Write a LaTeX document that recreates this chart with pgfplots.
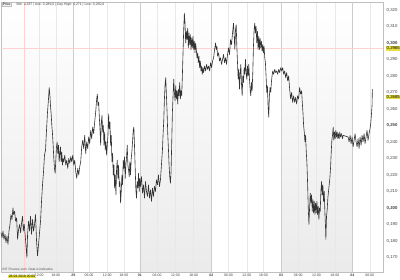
\documentclass[border=0pt]{standalone}
\usepackage{pgfplots}
\pgfplotsset{compat=1.18}
\usepackage{fontspec}
\setmainfont{Liberation Sans}
\definecolor{lineC}{HTML}{333333}
\definecolor{hiY}{HTML}{E8E040}
\begin{document}
\begin{tikzpicture}
\path[use as bounding box] (0pt,0pt) rectangle (400pt,280pt);
\shade[top color=white, bottom color=black!8] (1pt,8pt) rectangle (73.4pt,278pt);
\shade[top color=white, bottom color=black!8] (139.8pt,8pt) rectangle (211.3pt,278pt);
\shade[top color=white, bottom color=black!8] (281.1pt,8pt) rectangle (352.5pt,278pt);
\begin{axis}[
  at={(1pt,8pt)}, anchor=south west,
  scale only axis, width=382pt, height=270pt,
  xmin=0, xmax=1150, ymin=0.1612, ymax=0.3248,
  clip=false,
  axis line style={black!25},
  major tick length=0pt,
  yticklabel pos=right,
  ytick={0.17,0.18,0.19,0.20,0.21,0.22,0.23,0.24,0.25,0.26,0.27,0.28,0.29,0.30,0.31,0.32},
  yticklabels={{0,170},{0,180},{0,190},{\textbf{0,200}},{0,210},{0,220},{0,230},{0,240},{\textbf{0,250}},{0,260},{0,270},{0,280},{0,290},{\textbf{0,300}},{0,310},{0,320}},
  yticklabel style={font=\fontsize{4.3}{4.3}\selectfont, text=black!75, anchor=west, inner sep=0.5pt, xshift=3pt},
  xtick={115,165,218,265,320,370,418,470,525,580,633,685,740,790,843,895,950,1005,1058,1110},
  xticklabels={12:00,18:00,\textbf{29},06:00,12:00,18:00,\textbf{01},06:00,12:00,18:00,\textbf{02},06:00,12:00,18:00,\textbf{03},06:00,12:00,18:00,\textbf{04},06:00},
  xticklabel style={font=\fontsize{3.5}{3.5}\selectfont, text=black!75, anchor=north, inner sep=0.5pt, yshift=-1.3pt},
  xmajorgrids,
  grid style={black!9, line width=0.4pt},
]
\draw[black!20, line width=0.5pt] (axis cs:218,0.1612) -- (axis cs:218,0.3248);
\draw[black!20, line width=0.5pt] (axis cs:418,0.1612) -- (axis cs:418,0.3248);
\draw[black!20, line width=0.5pt] (axis cs:633,0.1612) -- (axis cs:633,0.3248);
\draw[black!20, line width=0.5pt] (axis cs:843,0.1612) -- (axis cs:843,0.3248);
\draw[black!20, line width=0.5pt] (axis cs:1058,0.1612) -- (axis cs:1058,0.3248);
\draw[red!18, line width=0.4pt] (axis cs:70,0.1612) -- (axis cs:70,0.3248);
\draw[red!18, line width=0.4pt] (axis cs:0,0.2965) -- (axis cs:1150,0.2965);
\addplot[lineC, line width=0.6pt, line join=round] coordinates {
(0,0.185) (3,0.182) (6,0.186) (9,0.181) (12,0.184) (15,0.179) (18,0.183) (21,0.178) (24,0.186) (27,0.190)
(30,0.196) (33,0.193) (36,0.200) (38,0.196) (41,0.198) (44,0.192) (47,0.194) (50,0.181) (53,0.187) (56,0.190)
(59,0.185) (62,0.191) (65,0.195) (67,0.186) (70,0.190) (73,0.183) (76,0.175) (78,0.170) (80,0.184) (83,0.192)
(86,0.186) (89,0.195) (92,0.184) (95,0.193) (98,0.186) (101,0.190) (104,0.196) (107,0.180) (110,0.171) (113,0.178)
(116,0.185) (119,0.192) (122,0.204) (125,0.214) (128,0.222) (131,0.232) (134,0.235) (137,0.247) (140,0.258) (143,0.266)
(145,0.273) (147,0.269) (149,0.262) (151,0.257) (153,0.250) (155,0.245) (157,0.238) (159,0.230) (161,0.224) (163,0.221)
(165,0.229) (167,0.237) (169,0.240) (171,0.233) (173,0.238) (175,0.228) (177,0.233) (179,0.237) (181,0.228) (183,0.234)
(185,0.226) (187,0.230) (189,0.228) (192,0.232) (195,0.226) (198,0.229) (201,0.224) (204,0.230) (207,0.227) (210,0.231)
(213,0.228) (216,0.232) (219,0.226) (222,0.229) (225,0.222) (228,0.218) (231,0.224) (234,0.220) (237,0.225) (240,0.228)
(243,0.237) (246,0.241) (249,0.236) (252,0.244) (255,0.233) (258,0.240) (261,0.236) (264,0.243) (267,0.239) (270,0.247)
(273,0.242) (276,0.249) (279,0.245) (282,0.252) (285,0.258) (288,0.266) (290,0.269) (292,0.262) (294,0.264) (296,0.255)
(298,0.248) (300,0.238) (302,0.252) (304,0.256) (306,0.246) (308,0.250) (310,0.238) (312,0.246) (314,0.235) (316,0.240)
(318,0.232) (320,0.238) (322,0.244) (324,0.257) (326,0.248) (328,0.252) (330,0.238) (332,0.244) (334,0.228) (336,0.233)
(338,0.220) (340,0.226) (342,0.212) (344,0.220) (346,0.208) (348,0.224) (350,0.229) (352,0.218) (354,0.226) (356,0.213)
(358,0.216) (360,0.203) (362,0.210) (364,0.220) (366,0.214) (368,0.229) (370,0.224) (372,0.231) (374,0.218) (376,0.226)
(378,0.231) (380,0.238) (382,0.226) (384,0.223) (386,0.219) (388,0.228) (390,0.220) (392,0.230) (394,0.234) (396,0.240)
(398,0.247) (400,0.249) (402,0.237) (404,0.224) (406,0.211) (408,0.206) (410,0.216) (412,0.212) (414,0.221) (416,0.210)
(418,0.218) (420,0.213) (423,0.219) (426,0.209) (429,0.214) (432,0.206) (435,0.216) (438,0.210) (441,0.207) (444,0.214)
(447,0.206) (450,0.211) (453,0.204) (456,0.212) (459,0.207) (462,0.213) (465,0.210) (468,0.217) (471,0.214) (474,0.220)
(477,0.213) (480,0.217) (483,0.226) (486,0.235) (488,0.245) (490,0.253) (492,0.266) (494,0.275) (496,0.279) (498,0.268)
(500,0.258) (502,0.245) (504,0.236) (506,0.226) (508,0.219) (510,0.215) (512,0.222) (514,0.240) (516,0.258) (518,0.268)
(520,0.278) (522,0.270) (524,0.265) (526,0.274) (528,0.266) (530,0.271) (532,0.263) (534,0.272) (536,0.268) (538,0.276)
(540,0.266) (542,0.271) (544,0.268) (546,0.280) (548,0.294) (550,0.308) (552,0.318) (554,0.312) (556,0.300) (558,0.307)
(560,0.302) (562,0.309) (564,0.297) (566,0.306) (568,0.299) (570,0.305) (572,0.296) (574,0.303) (576,0.297) (578,0.304)
(580,0.296) (582,0.301) (584,0.294) (586,0.300) (588,0.296) (590,0.291) (592,0.294) (594,0.288) (596,0.292) (598,0.285)
(600,0.289) (602,0.283) (604,0.286) (606,0.281) (608,0.285) (610,0.282) (613,0.286) (616,0.283) (619,0.287) (622,0.284)
(625,0.286) (628,0.283) (631,0.288) (634,0.285) (637,0.289) (640,0.291) (643,0.296) (646,0.300) (648,0.296) (650,0.298)
(652,0.292) (655,0.294) (658,0.289) (661,0.291) (664,0.287) (667,0.290) (670,0.293) (673,0.288) (676,0.291) (679,0.287)
(682,0.293) (685,0.297) (688,0.293) (691,0.302) (694,0.299) (697,0.306) (700,0.312) (702,0.304) (704,0.296) (706,0.308)
(708,0.311) (710,0.298) (712,0.288) (714,0.278) (716,0.284) (718,0.272) (720,0.281) (722,0.287) (724,0.275) (726,0.268)
(728,0.280) (730,0.276) (732,0.285) (734,0.281) (736,0.290) (738,0.282) (740,0.278) (742,0.286) (744,0.280) (746,0.287)
(748,0.278) (750,0.272) (752,0.268) (754,0.276) (756,0.271) (758,0.282) (760,0.298) (762,0.308) (764,0.312) (766,0.306)
(768,0.310) (770,0.300) (772,0.307) (774,0.296) (776,0.304) (778,0.296) (780,0.303) (782,0.297) (784,0.301) (786,0.295)
(788,0.299) (790,0.294) (792,0.298) (794,0.291) (796,0.288) (798,0.280) (800,0.270) (802,0.274) (804,0.262) (806,0.255)
(808,0.268) (810,0.273) (812,0.270) (814,0.276) (816,0.280) (818,0.283) (821,0.281) (824,0.284) (827,0.282) (830,0.283)
(833,0.281) (836,0.284) (839,0.282) (842,0.285) (845,0.283) (848,0.285) (851,0.281) (854,0.283) (857,0.279) (860,0.282)
(863,0.277) (866,0.280) (869,0.272) (872,0.266) (875,0.270) (878,0.264) (881,0.268) (884,0.264) (887,0.267) (890,0.263)
(893,0.268) (896,0.266) (899,0.273) (902,0.269) (905,0.271) (907,0.264) (909,0.258) (911,0.250) (913,0.246) (915,0.240)
(917,0.244) (919,0.234) (921,0.227) (923,0.215) (925,0.200) (927,0.190) (929,0.200) (931,0.209) (933,0.203) (935,0.208)
(937,0.198) (939,0.205) (941,0.197) (943,0.204) (945,0.196) (947,0.203) (949,0.197) (951,0.204) (953,0.196) (955,0.201)
(957,0.193) (959,0.200) (961,0.198) (963,0.210) (965,0.216) (967,0.208) (969,0.214) (971,0.204) (973,0.210) (975,0.198)
(977,0.188) (978,0.181) (980,0.195) (982,0.199) (984,0.206) (986,0.210) (988,0.214) (990,0.218) (992,0.224) (994,0.233)
(996,0.241) (998,0.244) (1000,0.249) (1002,0.241) (1004,0.246) (1006,0.242) (1008,0.247) (1010,0.243) (1012,0.246) (1014,0.242)
(1016,0.245) (1018,0.242) (1020,0.246) (1022,0.243) (1025,0.245) (1028,0.242) (1030,0.244) (1045,0.243) (1048,0.240) (1051,0.244)
(1054,0.239) (1057,0.243) (1060,0.237) (1063,0.241) (1066,0.245) (1069,0.240) (1072,0.237) (1075,0.242) (1078,0.236) (1081,0.243)
(1084,0.238) (1087,0.244) (1090,0.240) (1093,0.245) (1096,0.239) (1099,0.243) (1102,0.247) (1105,0.241) (1108,0.245) (1111,0.248)
(1113,0.251) (1115,0.256) (1117,0.262) (1118,0.272)
};
\node[fill=hiY, font=\fontsize{4.3}{4.3}\selectfont, inner sep=0.5pt, anchor=west, xshift=3pt] at (axis cs:1150,0.2965) {0,2965};
\node[fill=hiY, font=\fontsize{4.3}{4.3}\selectfont, inner sep=0.5pt, anchor=west, xshift=3pt] at (axis cs:1150,0.2672) {0,2685};
\end{axis}
\node[anchor=west, font=\fontsize{3.2}{3.2}\selectfont, text=black!70, inner sep=0.5pt] at (2pt,10.5pt) {BIT Finance.com \ Data is indicative};
\node[anchor=west, fill=hiY, font=\fontsize{3.4}{3.4}\selectfont, inner sep=0.6pt] at (8pt,3.6pt) {28.03.2019 20:00};
\node[anchor=west, draw=black!25, fill=black!5, font=\fontsize{3.4}{3.4}\selectfont, inner sep=0.6pt] at (2pt,275.5pt) {Price};
\node[anchor=west, font=\fontsize{3.4}{3.4}\selectfont, text=black!75, inner sep=0.5pt] at (16pt,275.5pt) {Bid: 0,287 | Ask: 0,289,0 | Day High: 0,271 | Low: 0,230,0};
\end{tikzpicture}
\end{document}
